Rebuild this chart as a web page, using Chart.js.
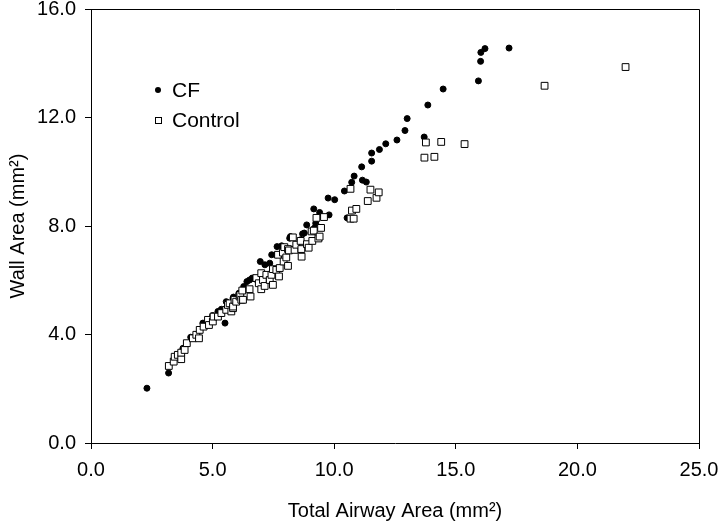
<!DOCTYPE html>
<html>
<head>
<meta charset="utf-8">
<script src="https://cdn.jsdelivr.net/npm/chart.js@4.4.1/dist/chart.umd.min.js"></script>
<style>
  html, body { margin: 0; padding: 0; background: #fff; }
  #chart { display: block; }
</style>
</head>
<body>
<canvas id="chart" width="720" height="525"></canvas>
<script>
const FONT = "'Liberation Sans', Arial, Helvetica, sans-serif";

// CF group (filled circles)
const cfArea = [2.3, 3.19, 3.67, 3.78, 4.1, 4.35, 4.6, 4.74, 5.0, 5.22, 5.36, 5.51, 5.56, 5.84, 5.86,
    6.08, 6.28, 6.41, 6.52, 6.63, 6.73, 6.96, 7.15, 7.35, 7.43, 7.62, 7.65, 7.84, 7.96, 8.17,
    8.2, 8.61, 8.7, 8.77, 8.87, 9.18, 9.24, 9.16, 9.4, 9.75, 9.79, 10.02, 10.42, 10.53, 10.72,
    10.82, 11.13, 11.16, 11.32, 11.54, 11.54, 11.86, 12.12, 12.58, 12.91, 13.0, 13.7, 13.85,
    14.48, 15.93, 16.02, 16.03, 16.2, 17.19];
const cfWall = [2.02, 2.58, 3.31, 3.49, 3.9, 4.01, 4.42, 4.35, 4.7, 4.85, 4.93, 4.42, 5.21, 5.34, 5.38,
    5.52, 5.77, 5.95, 6.01, 6.08, 6.05, 6.69, 6.57, 6.63, 6.94, 6.94, 7.24, 7.27, 7.18, 7.55,
    7.61, 7.49, 7.71, 7.74, 8.04, 7.92, 8.1, 8.63, 8.5, 9.03, 8.41, 8.97, 9.29, 8.3, 9.61,
    9.84, 10.18, 9.69, 9.62, 10.39, 10.69, 10.82, 11.03, 11.17, 11.52, 11.96, 11.28, 12.46,
    13.05, 13.35, 14.07, 14.4, 14.54, 14.56];

// Control group (open squares)
const ctlArea = [3.2, 3.4, 3.44, 3.57, 3.71, 3.71, 3.85, 3.94, 4.19, 4.33, 4.44, 4.47, 4.63, 4.81,
    4.85, 5.01, 5.04, 5.22, 5.36, 5.56, 5.63, 5.7, 5.77, 5.84, 5.84, 5.9, 5.97, 6.11, 6.14,
    6.18, 6.22, 6.25, 6.52, 6.56, 6.8, 6.9, 7.0, 7.0, 7.07, 7.14, 7.21, 7.35, 7.42, 7.48, 7.48,
    7.62, 7.69, 7.73, 7.76, 7.89, 7.92, 7.95, 8.03, 8.1, 8.1, 8.14, 8.3, 8.37, 8.44, 8.62,
    8.65, 8.66, 8.88, 8.95, 9.07, 9.1, 9.16, 9.35, 9.4, 9.46, 9.27, 9.58, 10.67, 10.67, 10.8,
    10.73, 10.91, 11.38, 11.49, 11.74, 11.83, 13.71, 13.77, 14.12, 14.4, 15.36, 18.65, 21.98];
const ctlWall = [2.84, 3.0, 3.18, 3.25, 3.09, 3.33, 3.43, 3.68, 3.86, 3.99, 3.86, 4.17, 4.29, 4.54,
    4.35, 4.48, 4.66, 4.66, 4.79, 4.91, 5.09, 5.15, 4.85, 4.97, 5.03, 5.28, 5.21, 5.4, 5.46,
    5.28, 5.62, 5.28, 5.67, 5.4, 6.08, 5.89, 5.67, 6.26, 6.01, 5.79, 6.2, 6.01, 6.2, 5.83, 6.41,
    6.38, 6.94, 6.14, 6.45, 7.02, 6.69, 7.22, 6.84, 6.53, 7.15, 7.1, 7.58, 7.12, 7.31, 7.45,
    7.15, 6.87, 7.33, 7.2, 7.8, 7.45, 7.83, 7.54, 7.61, 7.93, 8.3, 8.33, 9.37, 8.27, 8.27,
    8.57, 8.63, 8.92, 9.34, 9.04, 9.24, 10.52, 11.08, 10.55, 11.1, 11.02, 13.17, 13.86];

const xTicks = [0, 5, 10, 15, 20, 25];
const yTicks = [0, 4, 8, 12, 16];

const toPoints = (xs, ys) => xs.map((x, i) => ({ x: x, y: ys[i] }));

// frame round the plot + legend inside the plot
const framePlugin = {
    id: 'frame',
    afterDraw: (chart) => {
        const a = chart.chartArea;
        const ctx = chart.ctx;
        ctx.save();
        ctx.strokeStyle = '#000';
        ctx.lineWidth = 1;
        ctx.beginPath();
        ctx.moveTo(a.left, a.top + 0.5);
        ctx.lineTo(a.right + 0.5, a.top + 0.5);
        ctx.lineTo(a.right + 0.5, a.bottom);
        ctx.stroke();

        // legend
        const lx = a.left + 67;
        const ly = a.top + 81;
        ctx.font = '21px ' + FONT;
        ctx.textBaseline = 'middle';
        ctx.fillStyle = '#000';
        chart.data.datasets.slice().sort((p, q) => p.legendPos - q.legendPos).forEach((ds, i) => {
            const y = ly + i * 30;
            ctx.beginPath();
            if (ds.pointStyle === 'circle') {
                ctx.arc(lx, y, 3, 0, Math.PI * 2);
                ctx.fill();
            } else {
                ctx.fillStyle = '#fff';
                ctx.fillRect(lx - 3, y - 3, 6, 6);
                ctx.strokeRect(lx - 2.5, y - 2.5, 6, 6);
                ctx.fillStyle = '#000';
            }
            ctx.fillText(ds.label, lx + 14, y + 1);
        });
        ctx.restore();
    }
};

new Chart(document.querySelector('#chart'), {
    type: 'scatter',
    data: {
        datasets: [
            {
                label: 'Control',
                legendPos: 1,
                order: 0,
                data: toPoints(ctlArea, ctlWall),
                pointStyle: 'rect',
                pointRadius: 4.8,
                backgroundColor: '#fff',
                borderColor: '#000',
                borderWidth: 1
            },
            {
                label: 'CF',
                legendPos: 0,
                order: 1,
                data: toPoints(cfArea, cfWall),
                pointStyle: 'circle',
                pointRadius: 3,
                backgroundColor: '#000',
                borderColor: '#000',
                borderWidth: 1
            }
        ]
    },
    options: {
        responsive: false,
        animation: false,
        events: [],
        layout: { padding: { left: 0, right: 21, top: 9, bottom: 0 } },
        plugins: {
            legend: { display: false },
            tooltip: { enabled: false }
        },
        scales: {
            x: {
                type: 'linear',
                min: 0,
                max: 25,
                afterFit: (s) => { s.height = 82; s.paddingLeft = 0; s.paddingRight = 0; },
                afterBuildTicks: (s) => { s.ticks = xTicks.map(v => ({ value: v })); },
                border: { display: true, color: '#000', width: 1 },
                grid: { display: true, drawOnChartArea: false, drawTicks: true, tickLength: 6, color: '#000' },
                ticks: {
                    color: '#000',
                    padding: 9,
                    maxRotation: 0,
                    font: { family: FONT, size: 20 },
                    callback: (v) => v.toFixed(1)
                },
                title: {
                    display: true,
                    text: 'Total Airway Area (mm²)',
                    color: '#000',
                    font: { family: FONT, size: 20 },
                    padding: { top: 0, bottom: 2 }
                }
            },
            y: {
                type: 'linear',
                min: 0,
                max: 16,
                afterFit: (s) => { s.width = 91; s.paddingTop = 0; s.paddingBottom = 0; },
                afterBuildTicks: (s) => { s.ticks = yTicks.map(v => ({ value: v })); },
                border: { display: true, color: '#000', width: 1 },
                grid: { display: true, drawOnChartArea: false, drawTicks: true, tickLength: 6, color: '#000' },
                ticks: {
                    color: '#000',
                    padding: 9,
                    font: { family: FONT, size: 20 },
                    callback: (v) => v.toFixed(1)
                },
                title: {
                    display: true,
                    text: 'Wall Area (mm²)',
                    color: '#000',
                    font: { family: FONT, size: 20 },
                    padding: { top: 6, bottom: 0 }
                }
            }
        }
    },
    plugins: [framePlugin]
});
</script>
</body>
</html>
